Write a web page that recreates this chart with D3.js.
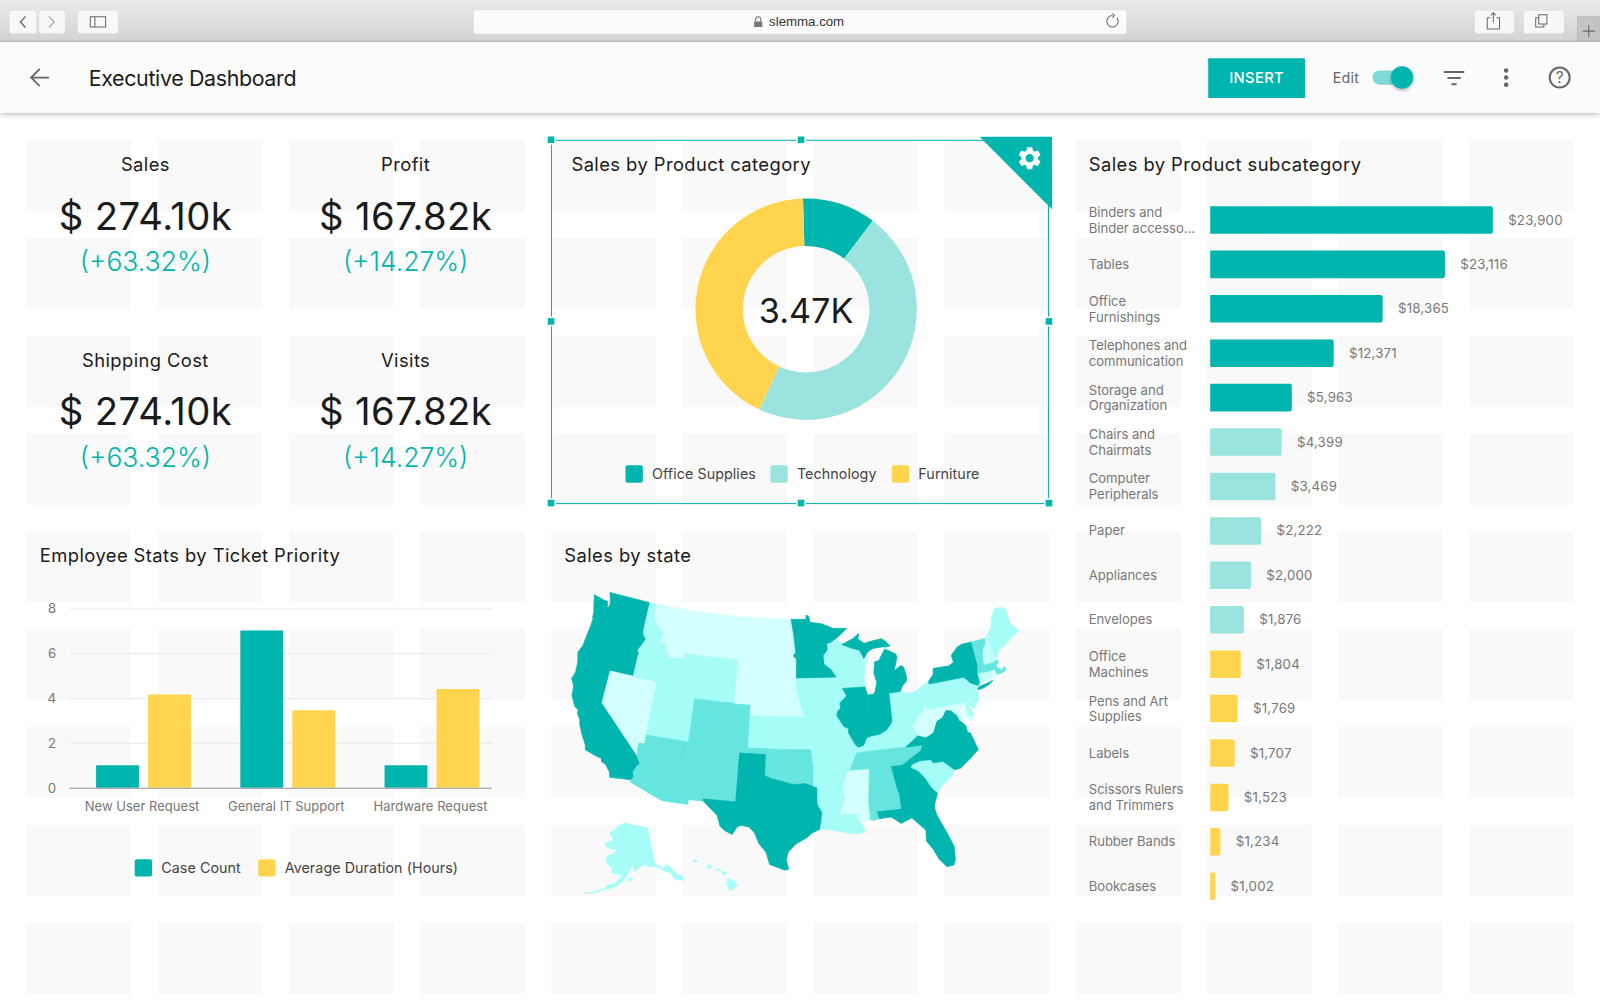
<!DOCTYPE html>
<html>
<head>
<meta charset="utf-8">
<title>Executive Dashboard</title>
<script src="https://cdn.jsdelivr.net/npm/d3@7"></script>
<style>
  html, body { margin: 0; padding: 0; background: #fff; overflow: hidden; }
  text { font-family: Inter, "Noto Sans", sans-serif; }
  .browser text { font-family: "Liberation Sans", sans-serif; }
  .tick text { font-family: Inter, sans-serif; }
  .card-title { font-size: 18px; fill: #1b1b1b; letter-spacing: 0.42px; }
  .kpi-label { font-size: 18px; fill: #1b1b1b; letter-spacing: 0.4px; text-anchor: middle; }
  .kpi-value { font-size: 37.5px; fill: #1b1b1b; text-anchor: middle; letter-spacing: 0.4px; }
  .kpi-delta { font-size: 26px; fill: #00b5ad; text-anchor: middle; font-weight: 300; }
  .legend-label { font-size: 14px; fill: #444; letter-spacing: 0.08px; }
  .cat-label { font-size: 12.8px; fill: #777; }
  .val-label { font-size: 13px; fill: #777; letter-spacing: 0.2px; }
</style>
</head>
<body>
<div id="chart"></div>
<script>
// ---- data ----
const kpiNames = ["Sales", "Profit", "Shipping Cost", "Visits"];
const kpiValues = ["$ 274.10k", "$ 167.82k", "$ 274.10k", "$ 167.82k"];
const kpiDeltas = ["(+63.32%)", "(+14.27%)", "(+63.32%)", "(+14.27%)"];

const donutCategories = ["Office Supplies", "Technology", "Furniture"];
const donutValues = [372, 1620, 1478];
const donutTotal = "3.47K";

const ticketGroups = ["New User Request", "General IT Support", "Hardware Request"];
const ticketSeries = ["Case Count", "Average Duration (Hours)"];
const caseCount = [1, 7, 1];
const avgDuration = [4.15, 3.45, 4.4];
const ticketTicks = [0, 2, 4, 6, 8];

const subcategories = [
  ["Binders and", "Binder accesso..."], ["Tables"], ["Office", "Furnishings"],
  ["Telephones and", "communication"], ["Storage and", "Organization"],
  ["Chairs and", "Chairmats"], ["Computer", "Peripherals"], ["Paper"], ["Appliances"],
  ["Envelopes"], ["Office", "Machines"], ["Pens and Art", "Supplies"], ["Labels"],
  ["Scissors Rulers", "and Trimmers"], ["Rubber Bands"], ["Bookcases"]
];
const subcategoryLabels = ["$23,900", "$23,116", "$18,365", "$12,371", "$5,963", "$4,399", "$3,469",
  "$2,222", "$2,000", "$1,876", "$1,804", "$1,769", "$1,707", "$1,523", "$1,234", "$1,002"];
// the bars in the picture are not in proportion to their printed labels, so bar lengths are read separately
const subcategoryBars = [23900, 19850, 14580, 10440, 6900, 6040, 5520, 4310, 3450, 2850, 2590, 2330, 2070, 1550, 860, 430];
const subcategoryGroup = [0, 0, 0, 0, 0, 1, 1, 1, 1, 1, 2, 2, 2, 2, 2, 2];

// state name -> shade (0 lightest .. 3 darkest)
const stateShade = {
  WA: 3, OR: 3, CA: 3, MN: 3, MI: 3, IL: 3, IN: 3, NY: 3, VA: 3, NC: 3, GA: 3, FL: 3, TX: 3,
  AZ: 2, NM: 2, CO: 2, OK: 2, TN: 2, AL: 2, VT: 2, MA: 2,
  ID: 1, UT: 1, WY: 1, KS: 1, IA: 1, MO: 1, AR: 1, LA: 1, WI: 1, KY: 1, OH: 1, PA: 1, NJ: 1,
  ME: 1, SC: 1, AK: 1, HI: 1, DE: 1, CT: 0.5, NH: 0.5,
  MT: 0, ND: 0, SD: 0, NE: 0, NV: 0, MS: 0, WV: 0, MD: 0, RI: 0
};

// rough state outlines, [lon, lat]
const stateShapes = {
  WA: [[[-124.73,48.38],[-123.2,48.15],[-122.75,48.15],[-122.55,47.6],[-122.4,47.6],[-122.3,48],[-122.5,48.5],[-122.76,49],[-117.03,49],[-117.04,46.42],[-116.92,45.99],[-118.98,46],[-119.3,45.93],[-120.2,45.73],[-121.2,45.65],[-122.2,45.58],[-122.76,45.65],[-122.9,46.1],[-123.43,46.23],[-124.07,46.27],[-124.1,46.8],[-124.4,47.5]]],
  OR: [[[-124.55,42.84],[-124.21,42],[-120,42],[-117.03,42],[-117.03,43.83],[-116.95,44.2],[-117.2,44.45],[-116.85,45],[-116.47,45.6],[-116.92,45.99],[-118.98,46],[-119.3,45.93],[-120.2,45.73],[-121.2,45.65],[-122.2,45.58],[-122.76,45.65],[-122.9,46.1],[-123.43,46.23],[-123.97,46.2],[-123.97,45.5],[-124.08,44.7],[-124.2,43.6]]],
  CA: [[[-124.21,42],[-120,42],[-120,39],[-114.63,35],[-114.13,34.3],[-114.43,34.05],[-114.72,33.4],[-114.52,33.03],[-114.72,32.72],[-117.12,32.53],[-117.28,33],[-117.9,33.6],[-118.4,33.75],[-118.5,34.03],[-119.2,34.15],[-120.5,34.45],[-120.65,34.9],[-121.3,35.7],[-121.9,36.6],[-122,36.95],[-122.5,37.5],[-122.5,37.8],[-123,38],[-123.7,38.9],[-123.85,39.8],[-124.35,40.4],[-124.1,41]]],
  NV: [[[-120,42],[-114.04,42],[-114.04,36.2],[-114.75,36.1],[-114.63,35],[-120,39]]],
  ID: [[[-117.03,49],[-116.05,49],[-116.05,48],[-115.7,47.45],[-114.7,46.7],[-114.35,46.65],[-114.5,45.55],[-113.9,45.65],[-113.45,44.95],[-113,44.45],[-111.5,44.55],[-111.05,44.48],[-111.05,42],[-114.04,42],[-117.03,42],[-117.03,43.83],[-116.95,44.2],[-117.2,44.45],[-116.85,45],[-116.47,45.6],[-116.92,45.99],[-117.04,46.42]]],
  MT: [[[-116.05,49],[-110,49],[-104.05,49],[-104.05,45],[-111.05,45],[-111.05,44.48],[-111.5,44.55],[-113,44.45],[-113.45,44.95],[-113.9,45.65],[-114.5,45.55],[-114.35,46.65],[-114.7,46.7],[-115.7,47.45],[-116.05,48]]],
  WY: [[[-111.05,45],[-107.5,45],[-104.05,45],[-104.05,41],[-107.5,41],[-111.05,41]]],
  UT: [[[-114.04,42],[-111.05,42],[-111.05,41],[-109.05,41],[-109.05,37],[-114.04,37]]],
  CO: [[[-109.05,41],[-105.5,41],[-102.05,41],[-102.05,37],[-105.5,37],[-109.05,37]]],
  AZ: [[[-114.75,36.1],[-114.04,36.2],[-114.04,37],[-109.05,37],[-109.05,31.33],[-111.07,31.33],[-114.8,32.5],[-114.72,32.72],[-114.52,33.03],[-114.72,33.4],[-114.43,34.05],[-114.13,34.3],[-114.63,35]]],
  NM: [[[-109.05,37],[-103,37],[-103.04,32],[-106.62,32],[-106.53,31.78],[-108.2,31.78],[-108.2,31.33],[-109.05,31.33]]],
  ND: [[[-104.05,49],[-100.5,49],[-97.23,49],[-96.85,47.6],[-96.56,45.94],[-100.5,45.94],[-104.05,45.94]]],
  SD: [[[-104.05,45.94],[-100.5,45.94],[-96.56,45.94],[-96.85,45.6],[-96.45,45.3],[-96.45,43.5],[-96.44,42.49],[-97.2,42.85],[-98.5,43],[-104.05,43]]],
  NE: [[[-104.05,43],[-98.5,43],[-97.2,42.85],[-96.44,42.49],[-96.1,41.7],[-95.9,41],[-95.31,40],[-102.05,40],[-102.05,41],[-104.05,41]]],
  KS: [[[-102.05,40],[-98.5,40],[-95.31,40],[-94.9,39.8],[-94.61,39.1],[-94.62,37],[-98.5,37],[-102.05,37]]],
  OK: [[[-103,37],[-98.5,37],[-94.62,37],[-94.43,35.4],[-94.48,33.64],[-95.5,33.9],[-96.5,33.8],[-97.2,33.9],[-98.1,34.1],[-99.2,34.3],[-100,34.56],[-100,36.5],[-103,36.5]]],
  TX: [[[-106.62,32],[-103.04,32],[-103,36.5],[-100,36.5],[-100,34.56],[-99.2,34.3],[-98.1,34.1],[-97.2,33.9],[-96.5,33.8],[-95.5,33.9],[-94.48,33.64],[-94.04,33.55],[-94.04,33],[-94.04,31.99],[-93.55,31.2],[-93.7,30.3],[-93.84,29.7],[-94.7,29.35],[-95.3,28.9],[-96.4,28.35],[-97.2,27.6],[-97.4,26.9],[-97.15,25.96],[-97.6,25.9],[-99.1,26.4],[-99.5,27.5],[-100.3,28.3],[-100.8,29.25],[-101.4,29.77],[-102.3,29.88],[-102.7,29.7],[-103.15,28.98],[-104,29.3],[-104.5,29.65],[-104.9,30.6],[-106,31.4],[-106.53,31.78]]],
  MN: [[[-97.23,49],[-95.15,49],[-95.15,49.38],[-94.8,49.3],[-94.6,48.72],[-93,48.55],[-91.4,48.07],[-89.6,48],[-90.8,47.3],[-92,46.7],[-92.3,46.66],[-92.29,46.08],[-92.85,45.6],[-92.75,44.8],[-91.9,44.3],[-91.22,43.5],[-96.45,43.5],[-96.45,45.3],[-96.85,45.6],[-96.56,45.94],[-96.85,47.6]]],
  IA: [[[-96.45,43.5],[-91.22,43.5],[-91.1,42.7],[-90.65,42.5],[-90.15,41.8],[-91.05,41.2],[-91,40.7],[-91.42,40.38],[-91.73,40.6],[-95.77,40.58],[-95.9,41],[-96.1,41.7],[-96.44,42.49]]],
  MO: [[[-95.77,40.58],[-91.73,40.6],[-91.42,40.38],[-91.5,40],[-90.7,39],[-90.2,38.8],[-90.2,38.4],[-89.5,37.3],[-89.13,36.98],[-89.4,36.5],[-89.7,36],[-90.37,36],[-90.15,36.5],[-94.62,36.5],[-94.62,37],[-94.61,39.1],[-94.9,39.8],[-95.31,40]]],
  AR: [[[-94.62,36.5],[-90.15,36.5],[-90.37,36],[-89.7,36],[-90.3,35],[-90.6,34.7],[-91.1,33.9],[-91.17,33],[-94.04,33],[-94.04,33.55],[-94.48,33.64],[-94.43,35.4]]],
  LA: [[[-94.04,33],[-91.17,33],[-91,32.5],[-91.6,31],[-89.73,31],[-89.85,30.65],[-89.5,30.18],[-89.4,30.05],[-89,29.2],[-90.1,29.1],[-91.3,29.3],[-92.3,29.55],[-93.84,29.7],[-93.7,30.3],[-93.55,31.2],[-94.04,31.99]]],
  MS: [[[-91.17,33],[-91.1,33.9],[-90.6,34.7],[-90.3,35],[-88.2,35],[-88.1,34.9],[-88.47,31.9],[-88.4,30.3],[-89.5,30.18],[-89.85,30.65],[-89.73,31],[-91.6,31],[-91,32.5]]],
  WI: [[[-92.3,46.66],[-92,46.7],[-90.8,46.95],[-90.4,46.55],[-89.1,46.14],[-88.1,45.9],[-87.6,45.1],[-88,44.55],[-87.05,45.25],[-87.5,44.4],[-87.8,43.3],[-87.8,42.49],[-90.65,42.5],[-91.1,42.7],[-91.22,43.5],[-91.9,44.3],[-92.75,44.8],[-92.85,45.6],[-92.29,46.08]]],
  IL: [[[-90.65,42.5],[-87.8,42.49],[-87.53,41.71],[-87.53,39.35],[-87.65,38.5],[-88.05,37.8],[-88.5,37.1],[-89.13,36.98],[-89.5,37.3],[-90.2,38.4],[-90.2,38.8],[-90.7,39],[-91.5,40],[-91.42,40.38],[-91,40.7],[-91.05,41.2],[-90.15,41.8]]],
  IN: [[[-87.53,41.71],[-87.2,41.76],[-86.82,41.76],[-84.8,41.7],[-84.82,39.1],[-85.2,38.7],[-85.7,38.3],[-86.5,38],[-87.5,37.9],[-88.05,37.8],[-87.65,38.5],[-87.53,39.35]]],
  OH: [[[-84.8,41.7],[-83.45,41.73],[-82.7,41.5],[-81.7,41.5],[-80.52,41.98],[-80.52,40.64],[-80.85,39.7],[-81.7,39.2],[-82.2,38.6],[-82.6,38.42],[-83.6,38.65],[-84.82,39.1]]],
  KY: [[[-89.4,36.5],[-89.13,36.98],[-88.5,37.1],[-88.05,37.8],[-87.5,37.9],[-86.5,38],[-85.7,38.3],[-85.2,38.7],[-84.82,39.1],[-83.6,38.65],[-82.6,38.42],[-82,37.53],[-83.68,36.6],[-88.07,36.6]]],
  TN: [[[-90.3,35],[-89.7,36],[-89.4,36.5],[-88.07,36.6],[-83.68,36.6],[-81.68,36.59],[-82,36.1],[-84.32,35],[-88.2,35]]],
  AL: [[[-88.2,35],[-85.6,35],[-85.18,32.87],[-85,32.3],[-85,31],[-87.6,31],[-87.45,30.35],[-88,30.25],[-88.4,30.3],[-88.47,31.9],[-88.1,34.9]]],
  GA: [[[-85.6,35],[-84.32,35],[-83.1,35],[-83.35,34.7],[-82.6,34.3],[-81.9,33.5],[-81.4,32.6],[-80.85,32.05],[-81.3,31.2],[-81.45,30.7],[-82,30.75],[-82.2,30.57],[-84.86,30.7],[-85,31],[-85,32.3],[-85.18,32.87]]],
  FL: [[[-87.6,31],[-85,31],[-84.86,30.7],[-82.2,30.57],[-82,30.75],[-81.45,30.7],[-81.3,30],[-80.6,28.4],[-80.05,26.9],[-80.15,25.7],[-80.4,25.2],[-81.1,25.15],[-81.8,26],[-82.2,26.9],[-82.8,27.8],[-82.7,28.8],[-83.4,29.5],[-84,30.1],[-85.2,29.7],[-86.2,30.4],[-87.45,30.35]]],
  SC: [[[-83.1,35],[-82.3,35.2],[-81.05,35.15],[-80.8,34.82],[-79.68,34.8],[-78.55,33.86],[-79.2,33.2],[-80.4,32.5],[-80.85,32.05],[-81.4,32.6],[-81.9,33.5],[-82.6,34.3],[-83.35,34.7]]],
  NC: [[[-84.32,35],[-82,36.1],[-81.68,36.59],[-75.87,36.55],[-75.5,35.25],[-76.5,34.65],[-77.9,33.9],[-78.55,33.86],[-79.68,34.8],[-80.8,34.82],[-81.05,35.15],[-82.3,35.2],[-83.1,35]]],
  VA: [[[-83.68,36.6],[-81.68,36.59],[-75.87,36.55],[-76,36.9],[-76.3,37],[-76.3,37.6],[-76.9,38.2],[-77.05,38.7],[-77.5,39.1],[-77.75,39.32],[-78.35,39.4],[-78.9,38.8],[-79.65,38.55],[-80.3,37.55],[-81.2,37.25],[-82,37.53]]],
  WV: [[[-82.6,38.42],[-82.2,38.6],[-81.7,39.2],[-80.85,39.7],[-80.52,40.64],[-80.52,39.72],[-79.48,39.72],[-79.48,39.2],[-78.4,39.6],[-77.75,39.32],[-78.35,39.4],[-78.9,38.8],[-79.65,38.55],[-80.3,37.55],[-81.2,37.25],[-82,37.53]]],
  MD: [[[-79.48,39.72],[-75.79,39.72],[-75.7,38.46],[-75.05,38.45],[-75.25,38.03],[-75.7,37.95],[-76.2,38.5],[-76.05,39.4],[-76.5,39.2],[-76.45,38.4],[-76.3,38.05],[-76.9,38.2],[-77.05,38.7],[-77.5,39.1],[-77.75,39.32],[-78.4,39.6],[-79.48,39.2]]],
  DE: [[[-75.79,39.72],[-75.45,39.8],[-75.55,39.4],[-75.05,38.45],[-75.7,38.46]]],
  PA: [[[-80.52,41.98],[-79.76,42.25],[-79.76,42],[-75.35,42],[-75.05,41.75],[-74.7,41.36],[-75.13,40.97],[-75.2,40.65],[-74.72,40.15],[-75.45,39.8],[-75.79,39.72],[-80.52,39.72],[-80.52,40.64]]],
  NJ: [[[-74.7,41.36],[-73.9,41],[-74.25,40.5],[-74,40.45],[-74.1,39.75],[-74.9,38.95],[-75.55,39.5],[-74.72,40.15],[-75.2,40.65],[-75.13,40.97]]],
  NY: [[[-79.76,42.25],[-79.76,42],[-75.35,42],[-75.05,41.75],[-74.7,41.36],[-73.9,41],[-73.65,41],[-73.48,41.2],[-73.5,42.05],[-73.27,42.75],[-73.35,45],[-74.7,45],[-75.3,44.85],[-76.3,44.2],[-76.2,43.55],[-76.9,43.3],[-78.9,43.35],[-79.05,42.8]],
       [[-74,40.6],[-73.75,40.85],[-72.6,40.98],[-71.9,41.1],[-72.5,40.8],[-73.4,40.6]]],
  CT: [[[-73.65,41],[-73.48,41.2],[-73.5,42.05],[-71.8,42.02],[-71.8,41.32],[-72.9,41.25]]],
  RI: [[[-71.8,42.02],[-71.38,42.02],[-71.15,41.5],[-71.8,41.32]]],
  MA: [[[-73.5,42.05],[-73.27,42.75],[-72.46,42.73],[-71.3,42.7],[-70.85,42.88],[-70.6,42.65],[-71.05,42.3],[-70.55,41.8],[-70.05,42.05],[-69.95,41.7],[-70.6,41.55],[-71.15,41.5],[-71.38,42.02],[-71.8,42.02]]],
  VT: [[[-73.35,45],[-71.5,45.01],[-71.6,44.5],[-72.05,44.1],[-72.3,43.6],[-72.46,42.73],[-73.27,42.75]]],
  NH: [[[-71.5,45.01],[-71.08,45.3],[-70.98,43.4],[-70.7,43.07],[-70.85,42.88],[-71.3,42.7],[-72.46,42.73],[-72.3,43.6],[-72.05,44.1],[-71.6,44.5]]],
  ME: [[[-71.08,45.3],[-70.4,45.8],[-70,46.7],[-69.2,47.45],[-68.3,47.35],[-67.8,47.07],[-67.8,45.7],[-67,44.85],[-68.5,44.3],[-69.1,44],[-70.2,43.6],[-70.7,43.07],[-70.98,43.4]]],
  MI: [[[-86.82,41.76],[-84.8,41.7],[-83.45,41.73],[-83.1,42.2],[-82.5,42.6],[-82.42,43],[-82.6,43.9],[-83,44.07],[-83.9,43.65],[-83.3,44.85],[-83.4,45.2],[-84.75,45.78],[-85.5,45],[-85.6,44.8],[-86.25,44.7],[-86.5,43.7],[-86.25,42.8],[-86.6,41.95]],
       [[-90.4,46.55],[-89.1,46.14],[-88.1,45.9],[-87.6,45.1],[-87,45.7],[-86.3,45.95],[-85,46],[-84.7,45.95],[-84,46],[-84.5,46.45],[-85,46.75],[-86.1,46.67],[-87.4,46.5],[-88.2,46.95],[-88,47.45],[-88.9,47]]],
  AK: [[[-141,69.65],[-141,60.3],[-139,60],[-137.5,58.9],[-135.5,59.8],[-133.8,58.7],[-131.8,56.6],[-130,55.9],[-130.4,54.9],[-131.8,55.2],[-133.5,55.7],[-134.8,57.5],[-136.5,58.2],[-137.8,58.6],[-139.8,59.7],[-142.5,60],[-144.5,60.2],[-146,60.9],[-148.2,60.4],[-149.7,59.8],[-151.7,59.2],[-151.4,60.7],[-149.9,61.2],[-152.6,60.5],[-153.9,59.5],[-154.1,58.9],[-156.5,57.1],[-158.5,56],[-160.5,55.4],[-163,54.7],[-164.8,54.6],[-162.5,55.9],[-160.5,56],[-158,57.6],[-157.3,58.7],[-158.9,58.5],[-161.9,58.8],[-162,59.9],[-164.4,60.6],[-165.3,61.3],[-166,62],[-164.6,63],[-161,63.9],[-161.1,64.5],[-163,64.55],[-166.4,64.65],[-168.1,65.6],[-164.3,66.5],[-163.7,67.1],[-166.8,68.35],[-163.2,69.3],[-161.5,70.3],[-156.6,71.35],[-152,70.8],[-146,70.2]],
       [[-154.6,57.4],[-153.2,57.9],[-152.2,57.6],[-153.8,56.9]],
       [[-164.8,54.6],[-168,53.6],[-172,52.6],[-168,53.35],[-164.8,54.3]]],
  HI: [[[-155.9,20.25],[-155.2,19.95],[-154.85,19.5],[-155.65,18.95],[-156.05,19.7]],
       [[-156.7,20.95],[-156.2,20.95],[-156,20.75],[-156.4,20.6]],
       [[-157.3,21.2],[-156.7,21.15],[-156.9,21.05]],
       [[-158.25,21.55],[-157.95,21.7],[-157.65,21.3],[-158.1,21.3]],
       [[-159.75,22.1],[-159.4,22.2],[-159.3,22],[-159.6,21.9]]]
};

// ---- palette ----
const teal = "#00b5ad", tealLight = "#9ae3de", yellow = "#ffd54f";

// 1. 画布 : the picture was laid out on a 1568 x 980 grid
const svg = d3.select("#chart").append("svg")
    .attr("width", 1600).attr("height", 1000)
    .attr("viewBox", "0 0 1568 980")
    .style("display", "block");

const defs = svg.append("defs");
const chromeGrad = defs.append("linearGradient").attr("id", "chrome").attr("x1", 0).attr("x2", 0).attr("y1", 0).attr("y2", 1);
chromeGrad.append("stop").attr("offset", 0).attr("stop-color", "#ebebeb");
chromeGrad.append("stop").attr("offset", 1).attr("stop-color", "#d3d3d3");
const shadow = defs.append("filter").attr("id", "shadow").attr("x", "-20%").attr("y", "-20%").attr("width", "140%").attr("height", "160%");
shadow.append("feDropShadow").attr("dx", 0).attr("dy", 1).attr("stdDeviation", 3).attr("flood-color", "#000").attr("flood-opacity", 0.3);
const knobShadow = defs.append("filter").attr("id", "knob").attr("x", "-50%").attr("y", "-50%").attr("width", "200%").attr("height", "200%");
knobShadow.append("feDropShadow").attr("dx", 0).attr("dy", 1.5).attr("stdDeviation", 1.5).attr("flood-color", "#000").attr("flood-opacity", 0.3);

// 2. 背景网格 : layout tiles behind the cards
const tileCols = d3.range(12), tileRows = d3.range(9);
const tileX = d3.scaleLinear().domain([0, 11]).range([26, 1440]);
const tileY = d3.scaleLinear().domain([0, 8]).range([137, 904]);
svg.append("g").selectAll("rect")
  .data(d3.cross(tileCols, tileRows))
  .join("rect")
    .attr("x", d => tileX(d[0])).attr("y", d => tileY(d[1]))
    .attr("width", 102.5).attr("height", 70)
    .attr("fill", "#f9f9f9");

// 3. KPI cards
const kpi = svg.append("g").selectAll("g")
  .data(kpiNames)
  .join("g")
    .attr("transform", (d, i) => `translate(${i % 2 ? 397.5 : 142.5},${i < 2 ? 0 : 192})`);
kpi.append("text").attr("class", "kpi-label").attr("y", 168).text(d => d);
kpi.append("text").attr("class", "kpi-value").attr("y", 225).text((d, i) => kpiValues[i]);
kpi.append("text").attr("class", "kpi-delta").attr("y", 266).text((d, i) => kpiDeltas[i]);

// 4. Card titles
const titles = [["Sales by Product category", 560, 168], ["Sales by Product subcategory", 1067, 168],
                ["Employee Stats by Ticket Priority", 39, 551], ["Sales by state", 553, 551]];
svg.append("g").selectAll("text").data(titles).join("text")
    .attr("class", "card-title").attr("x", d => d[1]).attr("y", d => d[2]).text(d => d[0]);

// 5. Donut
const donutColor = d3.scaleOrdinal().domain(donutCategories).range([teal, tealLight, yellow]);
const pie = d3.pie().sort(null).startAngle(-0.028).endAngle(2 * Math.PI - 0.028);
const arc = d3.arc().innerRadius(62).outerRadius(108.5);
const donut = svg.append("g").attr("transform", "translate(790,303)");
donut.selectAll("path").data(pie(donutValues)).join("path")
    .attr("d", arc).attr("fill", (d, i) => donutColor(donutCategories[i]));
donut.append("text").attr("y", 14).attr("text-anchor", "middle")
    .attr("font-size", 33.5).attr("fill", "#1b1b1b").text(donutTotal);

function legend(names, xs, y, color) {
  const g = svg.append("g").selectAll("g").data(names).join("g")
      .attr("transform", (d, i) => `translate(${xs[i]},${y})`);
  g.append("rect").attr("width", 17).attr("height", 17).attr("rx", 2).attr("fill", color);
  g.append("text").attr("class", "legend-label").attr("x", 26).attr("y", 13.8).text(d => d);
}
legend(donutCategories, [613, 755, 874], 456, d => donutColor(d));

// 6. Selection frame round the donut card
const frame = svg.append("g");
frame.append("rect").attr("x", 540.5).attr("y", 137.5).attr("width", 487).attr("height", 356)
    .attr("fill", "none").attr("stroke", teal).attr("stroke-width", 1);
frame.append("path").attr("d", "M960,134H1031V205Z").attr("fill", teal);
frame.append("path")
    .attr("transform", "translate(995.5,141.5) scale(1.13)")
    .attr("fill", "#fff").attr("fill-rule", "evenodd")
    .attr("d", "M19.14,12.94c0.04-0.3,0.06-0.61,0.06-0.94c0-0.32-0.02-0.64-0.07-0.94l2.03-1.58c0.18-0.14,0.23-0.41,0.12-0.61l-1.92-3.32c-0.12-0.22-0.37-0.29-0.59-0.22l-2.39,0.96c-0.5-0.38-1.03-0.7-1.62-0.94L14.4,2.81c-0.04-0.24-0.24-0.41-0.48-0.41h-3.84c-0.24,0-0.43,0.17-0.47,0.41L9.25,5.35C8.66,5.59,8.12,5.92,7.63,6.29L5.24,5.33c-0.22-0.08-0.47,0-0.59,0.22L2.74,8.87C2.62,9.08,2.66,9.34,2.86,9.48l2.03,1.58C4.84,11.36,4.8,11.69,4.8,12s0.02,0.64,0.07,0.94l-2.03,1.58c-0.18,0.14-0.23,0.41-0.12,0.61l1.92,3.32c0.12,0.22,0.37,0.29,0.59,0.22l2.39-0.96c0.5,0.38,1.03,0.7,1.62,0.94l0.36,2.54c0.05,0.24,0.24,0.41,0.48,0.41h3.84c0.24,0,0.44-0.17,0.47-0.41l0.36-2.54c0.59-0.24,1.13-0.56,1.62-0.94l2.39,0.96c0.22,0.08,0.47,0,0.59-0.22l1.92-3.32c0.12-0.22,0.07-0.47-0.12-0.61L19.14,12.94z M12,15.6c-1.98,0-3.6-1.62-3.6-3.6s1.62-3.6,3.6-3.6s3.6,1.62,3.6,3.6S13.98,15.6,12,15.6z");
const handles = [[540, 137], [785, 137], [540, 315], [1028, 315], [540, 493], [785, 493], [1028, 493]];
frame.selectAll("rect.handle").data(handles).join("rect")
    .attr("class", "handle")
    .attr("x", d => d[0] - 4).attr("y", d => d[1] - 4)
    .attr("width", 8).attr("height", 8)
    .attr("fill", teal).attr("stroke", "#fff").attr("stroke-width", 1.5);

// 7. Grouped bars
const ticketX = d3.scaleBand().domain(ticketGroups).range([70, 494]);
const ticketInner = d3.scaleBand().domain(ticketSeries).range([0, 93]).paddingInner(0.176);
const ticketY = d3.scaleLinear().domain([0, 8]).range([772, 596]);
const ticketColor = d3.scaleOrdinal().domain(ticketSeries).range([teal, yellow]);

svg.append("g")
    .attr("transform", "translate(68,0)")
    .call(d3.axisLeft(ticketY).tickValues(ticketTicks).tickSize(-414).tickPadding(13))
    .call(g => g.select(".domain").remove())
    .call(g => g.selectAll(".tick line").attr("stroke", "#ececec"))
    .call(g => g.selectAll(".tick text").attr("font-size", 13).attr("fill", "#777"));

svg.append("g").selectAll("g").data(ticketGroups).join("g")
    .attr("transform", d => `translate(${ticketX(d) + ticketX.bandwidth() / 2 - 46.5},0)`)
  .selectAll("rect")
  .data((d, i) => [[ticketSeries[0], caseCount[i]], [ticketSeries[1], avgDuration[i]]])
  .join("rect")
    .attr("x", d => ticketInner(d[0]))
    .attr("y", d => ticketY(d[1]))
    .attr("width", ticketInner.bandwidth())
    .attr("height", d => ticketY(0) - ticketY(d[1]))
    .attr("rx", 1)
    .attr("fill", d => ticketColor(d[0]));

svg.append("g")
    .attr("transform", "translate(-1.5,772)")
    .call(d3.axisBottom(ticketX).tickSize(0).tickPadding(14))
    .call(g => g.select(".domain").remove())
    .call(g => g.selectAll(".tick text").attr("font-size", 12.8).attr("fill", "#777"));
svg.append("line").attr("x1", 68).attr("x2", 482).attr("y1", 772.5).attr("y2", 772.5).attr("stroke", "#999");

legend(ticketSeries, [132, 253], 842, d => ticketColor(d));

// 8. Horizontal bars
const subY = d3.scaleBand().domain(d3.range(subcategories.length)).range([193.8, 890.3]);
const subX = d3.scaleLinear().domain([0, 23900]).range([1186, 1463]);
const subColor = d3.scaleOrdinal().domain([0, 1, 2]).range([teal, tealLight, yellow]);
const subRow = svg.append("g").selectAll("g").data(subcategories).join("g")
    .attr("transform", (d, i) => `translate(0,${subY(i) + subY.bandwidth() / 2})`);
subRow.append("path")
    .attr("d", (d, i) => {
      const w = subX(subcategoryBars[i]) - subX(0);
      return `M${subX(0)},-13.5h${w - 2}a2,2 0 0 1 2,2v23a2,2 0 0 1 -2,2h-${w - 2}Z`;
    })
    .attr("fill", (d, i) => subColor(subcategoryGroup[i]));
subRow.append("text")
    .attr("class", "cat-label")
    .selectAll("tspan").data(d => d.map(t => [t, d.length])).join("tspan")
    .attr("x", 1067)
    .attr("y", (d, i) => d[1] > 1 ? (i ? 12.5 : -3) : 4.5)
    .text(d => d[0]);
subRow.append("text")
    .attr("class", "val-label")
    .attr("x", (d, i) => subX(subcategoryBars[i]) + 15)
    .attr("y", 4.5)
    .text((d, i) => subcategoryLabels[i]);

// 9. Map : lower 48 with Albers, Alaska and Hawaii on their own conics as insets
const lower48 = d3.geoAlbersUsa().scale(608).translate([779, 716.5]);
const alaska = d3.geoConicEqualArea().rotate([154, 0]).center([-2, 58.5]).parallels([55, 65])
    .scale(230).translate([612, 857.5]);
const hawaii = d3.geoConicEqualArea().rotate([157, 0]).center([-3, 19.9]).parallels([8, 18])
    .scale(547).translate([676.5, 864]);
const projectionFor = s => s === "AK" ? alaska : s === "HI" ? hawaii : lower48;
const shade = d3.scaleOrdinal().domain([0, 0.5, 1, 2, 3]).range(["#d4ffff", "#c0fffb", "#a6fdf8", "#66e5df", teal]);
const ring = d3.line();
svg.append("g").selectAll("path")
  .data(Object.keys(stateShapes))
  .join("path")
    .attr("d", s => stateShapes[s].map(r => ring(r.map(p => projectionFor(s)(p)).filter(Boolean)) + "Z").join(""))
    .attr("fill", s => shade(stateShade[s]))
    .attr("stroke", s => shade(stateShade[s]))
    .attr("stroke-width", 0.7);

// 10. App header
const header = svg.append("g");
header.append("rect").attr("y", 41).attr("width", 1568).attr("height", 69.5).attr("fill", "#fbfbfb").attr("filter", "url(#shadow)");
header.append("path").attr("d", "M48,76H31M39,67.5L30.5,76L39,84.5").attr("fill", "none").attr("stroke", "#666").attr("stroke-width", 1.8);
header.append("text").attr("x", 87).attr("y", 84).attr("font-size", 21).attr("fill", "#1b1b1b").attr("letter-spacing", -0.35).text("Executive Dashboard");
header.append("rect").attr("x", 1184).attr("y", 57).attr("width", 95).attr("height", 39).attr("rx", 1).attr("fill", teal);
header.append("text").attr("x", 1231.5).attr("y", 81.5).attr("text-anchor", "middle").attr("font-size", 14.5).attr("font-weight", 500).attr("fill", "#fff").attr("letter-spacing", 0.3).text("INSERT");
header.append("text").attr("x", 1306).attr("y", 81.5).attr("font-size", 14).attr("fill", "#666").attr("letter-spacing", 0.3).text("Edit");
header.append("rect").attr("x", 1345).attr("y", 69).attr("width", 36).attr("height", 14).attr("rx", 7).attr("fill", "#7fd9d5");
header.append("circle").attr("cx", 1374).attr("cy", 76).attr("r", 11).attr("fill", teal).attr("filter", "url(#knob)");
header.append("path").attr("d", "M1415,70.5h20M1418.5,76.5h13M1422.5,82.5h5").attr("stroke", "#666").attr("stroke-width", 2);
header.selectAll("circle.dot").data([69, 76, 83]).join("circle").attr("class", "dot")
    .attr("cx", 1476).attr("cy", d => d).attr("r", 2.2).attr("fill", "#666");
header.append("circle").attr("cx", 1528.5).attr("cy", 76).attr("r", 9.8).attr("fill", "none").attr("stroke", "#666").attr("stroke-width", 2);
header.append("text").attr("x", 1528.5).attr("y", 81.5).attr("text-anchor", "middle").attr("font-size", 15).attr("fill", "#666").text("?");

// 11. Browser bar
const browser = svg.append("g").attr("class", "browser");
browser.append("rect").attr("width", 1568).attr("height", 40).attr("fill", "url(#chrome)");
browser.append("line").attr("x1", 0).attr("x2", 1568).attr("y1", 40.5).attr("y2", 40.5).attr("stroke", "#a3a3a3");
const buttons = [[9, 27], [38, 26], [76, 40], [1445, 39], [1493, 40]];
browser.selectAll("rect.btn").data(buttons).join("rect").attr("class", "btn")
    .attr("x", d => d[0]).attr("y", 10).attr("width", d => d[1]).attr("height", 23).attr("rx", 3)
    .attr("fill", "#f8f8f8").attr("stroke", "#d8d8d8").attr("stroke-width", 0.5);
browser.append("rect").attr("x", 464).attr("y", 9.5).attr("width", 640).attr("height", 24).attr("rx", 3)
    .attr("fill", "#fbfbfb").attr("stroke", "#d8d8d8").attr("stroke-width", 0.5);
browser.append("text").attr("x", 790.5).attr("y", 25.5).attr("text-anchor", "middle").attr("font-size", 13).attr("fill", "#333").text("slemma.com");
browser.append("path").attr("d", "M739,21h8v5.5h-8Z").attr("fill", "#777");
browser.append("path").attr("d", "M740.5,21v-2a2.5,2.5 0 0 1 5,0v2").attr("fill", "none").attr("stroke", "#777");
browser.append("rect").attr("x", 1546).attr("y", 16).attr("width", 22).attr("height", 24).attr("fill", "#c4c4c4").attr("stroke", "#b0b0b0").attr("stroke-width", 0.5);
const ic = browser.append("g").attr("fill", "none").attr("stroke", "#666").attr("stroke-width", 1);
ic.append("path").attr("d", "M25,16L20,21.5L25,27").attr("stroke-width", 1.3);
ic.append("path").attr("d", "M48,16L53,21.5L48,27").attr("stroke", "#aaa").attr("stroke-width", 1.3);
ic.append("path").attr("d", "M88.5,16.5h15v10h-15ZM93,16.5v10");
ic.append("path").attr("d", "M1094.7,17.5a5.6,5.6 0 1 1 -4.7,-2.2M1090,13.3l2.2,2l-2.2,2");
ic.append("path").attr("d", "M1460.5,17.5h-3v11h12v-11h-3M1463.5,22V12.5M1461,15l2.5,-2.5l2.5,2.5");
ic.append("path").attr("d", "M1508,17.5h-3v9h8v-3M1508,14.5h8v9h-8Z");
ic.append("path").attr("d", "M1551,30.5h12M1557,24.5v12");
</script>
</body>
</html>
